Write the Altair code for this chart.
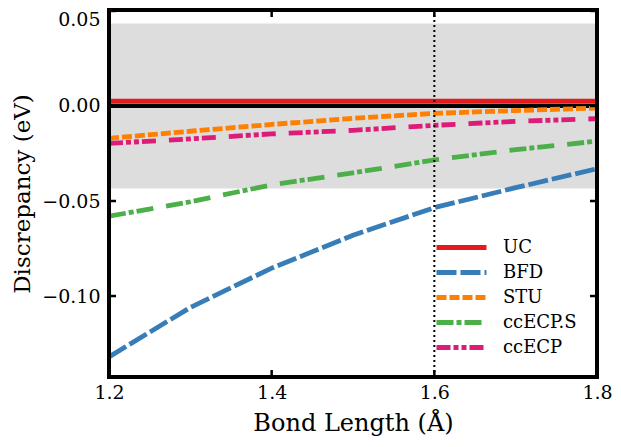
import altair as alt
import pandas as pd

# ---- data ----
bond = [1.2, 1.3, 1.4, 1.5, 1.6, 1.7, 1.8]
uc = [0.0025, 0.0025, 0.0025, 0.0025, 0.0025, 0.0025, 0.0025]
bfd = [-0.132, -0.106, -0.0853, -0.068, -0.0535, -0.043, -0.033]
stu = [-0.017, -0.0133, -0.0097, -0.0065, -0.0039, -0.0024, -0.0011]
ccecp_s = [-0.058, -0.0504, -0.0415, -0.0352, -0.0284, -0.023, -0.0185]
ccecp = [-0.0197, -0.0173, -0.0147, -0.0128, -0.0102, -0.0081, -0.0067]

series_names = ["UC", "BFD", "STU", "ccECP.S", "ccECP"]
series_values = [uc, bfd, stu, ccecp_s, ccecp]
series_colors = ["#e41a1c", "#377eb8", "#ff7f00", "#4daf4a", "#dd1c77"]
series_dash = [[1, 0], [20, 4], [10, 3], [17, 3, 5, 3, 17, 13], [14, 3, 5, 3, 5, 3, 14, 13]]

band_low, band_high = [-0.0434], [0.0434]
ref_x = [1.6]
x_ticks = [1.2, 1.4, 1.6, 1.8]
y_ticks = [0.05, 0.0, -0.05, -0.10]

W, H = 488, 367
FONT = "DejaVu Serif"
xdom = [1.2, 1.8]
ydom = [-0.1426, 0.0505]

rows = []
for name, vals in zip(series_names, series_values):
    for xv, yv in zip(bond, vals):
        rows.append({"x": xv, "y": yv, "series": name})
df = pd.DataFrame(rows)

xs = alt.Scale(domain=xdom, nice=False, zero=False)
ys = alt.Scale(domain=ydom, nice=False, zero=False)

xaxis = alt.Axis(values=x_ticks, format=".1f", title="Bond Length (Å)", tickSize=0,
                 domain=False, grid=False, labelPadding=6, labelFontSize=19,
                 labelFont=FONT, titleFont=FONT, titleFontWeight="normal",
                 labelColor="black", titleColor="black", labelFlush=False,
                 titleFontSize=24, titlePadding=9)
yaxis = alt.Axis(values=y_ticks, format=".2f", title="Discrepancy (eV)", tickSize=0,
                 domain=False, grid=False, labelPadding=9, labelFontSize=19,
                 labelFont=FONT, titleFont=FONT, titleFontWeight="normal",
                 labelColor="black", titleColor="black",
                 labelFlush=5, labelFlushOffset=0,
                 titleFontSize=23, titlePadding=7)

band = alt.Chart(pd.DataFrame({"x1": [xdom[0]], "x2": [xdom[1]], "y1": band_low, "y2": band_high})).mark_rect(
    color="#dddddd").encode(
    x=alt.X("x1:Q", scale=xs, axis=xaxis), x2="x2:Q",
    y=alt.Y("y1:Q", scale=ys, axis=yaxis), y2="y2:Q")

zero = alt.Chart(pd.DataFrame({"y": [0.0]})).mark_rule(color="black", strokeWidth=4).encode(
    y=alt.Y("y:Q", scale=ys))

lines = alt.Chart(df).mark_line(strokeWidth=4.8).encode(
    x=alt.X("x:Q", scale=xs),
    y=alt.Y("y:Q", scale=ys),
    color=alt.Color("series:N", scale=alt.Scale(domain=series_names, range=series_colors),
                    legend=alt.Legend(title=None)),
    strokeDash=alt.StrokeDash("series:N", scale=alt.Scale(domain=series_names, range=series_dash),
                              legend=alt.Legend(title=None)),
)

vline = alt.Chart(pd.DataFrame({"x": ref_x})).mark_rule(color="black", strokeWidth=2, strokeDash=[2, 3]).encode(
    x=alt.X("x:Q", scale=xs))

tx = pd.DataFrame({"x": x_ticks})
ty = pd.DataFrame({"y": y_ticks})
tick_bottom = alt.Chart(tx).mark_rule(color="black", strokeWidth=2.5).encode(
    x=alt.X("x:Q", scale=xs), y=alt.value(H), y2=alt.value(H - 7))
tick_top = alt.Chart(tx).mark_rule(color="black", strokeWidth=2.5).encode(
    x=alt.X("x:Q", scale=xs), y=alt.value(0), y2=alt.value(7))
tick_left = alt.Chart(ty).mark_rule(color="black", strokeWidth=2.5).encode(
    y=alt.Y("y:Q", scale=ys), x=alt.value(0), x2=alt.value(7))
tick_right = alt.Chart(ty).mark_rule(color="black", strokeWidth=2.5).encode(
    y=alt.Y("y:Q", scale=ys), x=alt.value(W), x2=alt.value(W - 7))

frame = alt.Chart(pd.DataFrame({"a": [0]})).mark_rect(filled=False, stroke="black", strokeWidth=4).encode(
    x=alt.value(0), x2=alt.value(W), y=alt.value(0), y2=alt.value(H))

chart = alt.layer(band, zero, lines, vline, tick_bottom, tick_top, tick_left, tick_right, frame).properties(
    width=W, height=H,
    padding={"left": 101, "top": 2, "right": 16, "bottom": 62},
    autosize=alt.AutoSizeParams(type="none"),
).configure_view(stroke=None).configure_axis(
    labelFont=FONT, titleFont=FONT, labelColor="black", titleColor="black",
    titleFontWeight="normal",
).configure_legend(
    orient="none", legendX=340, legendY=225, padding=0,
    symbolType="M-2.5,0H2.5", symbolSize=400, symbolStrokeWidth=4.8,
    labelFont=FONT, labelFontSize=18, labelColor="black", labelOffset=29,
    rowPadding=2, symbolOpacity=1,
)

chart.save("out.html", embed_options={"renderer": "svg", "actions": False})
